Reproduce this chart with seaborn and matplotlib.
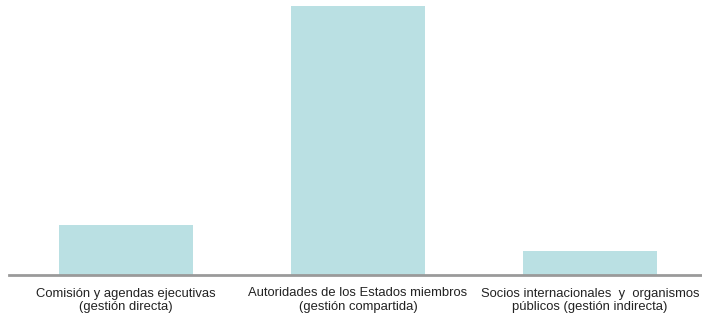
import matplotlib
matplotlib.use("Agg")
import matplotlib.pyplot as plt
import seaborn as sns
import pandas as pd

categories = [
    "Comisión y agendas ejecutivas\n(gestión directa)",
    "Autoridades de los Estados miembros\n(gestión compartida)",
    "Socios internacionales  y  organismos\npúblicos (gestión indirecta)",
]
values = [18.6, 100.0, 9.1]

df = pd.DataFrame({"cat": categories, "val": values})

sns.set_theme(style="white")
plt.rcParams["font.family"] = ["Liberation Sans", "DejaVu Sans"]

fig = plt.figure(figsize=(7.02, 3.2), dpi=100)
ax = fig.add_axes([9 / 702, 1 - 275 / 320, 1 - 9 / 702, (275 - 6) / 320])

sns.barplot(data=df, x="cat", y="val", color="#bae0e3", width=0.578,
            saturation=1, ax=ax, edgecolor="none")

ax.set_xlim(-0.504, 2.483)
ax.set_ylim(0, max(values))
ax.set_xlabel("")
ax.set_ylabel("")
ax.set_yticks([])
for s in ["top", "right", "left"]:
    ax.spines[s].set_visible(False)
ax.spines["bottom"].set_color("#9a9a9a")
ax.spines["bottom"].set_linewidth(2)
ax.tick_params(axis="x", length=0, pad=9, labelsize=9.4, colors="#222222")
for t in ax.get_xticklabels():
    t.set_linespacing(1.2)

fig.savefig("out.png", dpi=100)
